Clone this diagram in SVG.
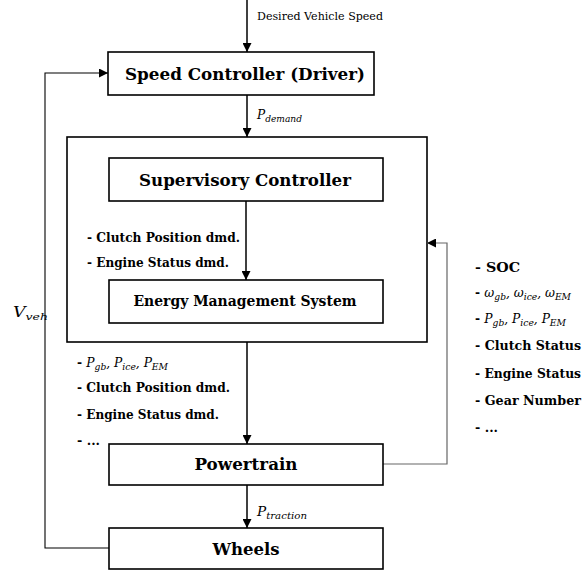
<svg xmlns="http://www.w3.org/2000/svg" width="582" height="570" viewBox="0 0 582 570">
<style>
.box{fill:#fff;stroke:#000;stroke-width:1.6}
.outer{fill:none;stroke:#000;stroke-width:1.6}
text{font-family:"DejaVu Serif","Liberation Serif",serif;fill:#000}
.b{font-weight:bold}
.i{font-style:italic}
.ln{fill:none;stroke:#000;stroke-width:1.5}
.fb{fill:none;stroke:#000;stroke-width:1.1}
.gr{fill:none;stroke:#666;stroke-width:1.2}
</style>
<defs>
<marker id="ah2" viewBox="0 0 10 10" refX="10" refY="5" markerWidth="9" markerHeight="9" markerUnits="userSpaceOnUse" orient="auto">
<path d="M0,0 L10,5 L0,10 Z" fill="#000"/>
</marker>
</defs>
<g id="outer">
<rect class="outer" x="67" y="137" width="360" height="205"/>
</g>
<g id="connectors">
<line class="ln" x1="247" y1="0" x2="247" y2="52" marker-end="url(#ah2)"/>
<line class="ln" x1="247" y1="95" x2="247" y2="137" marker-end="url(#ah2)"/>
<line class="ln" x1="246" y1="201" x2="246" y2="280" marker-end="url(#ah2)"/>
<line class="ln" x1="247" y1="342" x2="247" y2="444" marker-end="url(#ah2)"/>
<line class="ln" x1="247" y1="485" x2="247" y2="528" marker-end="url(#ah2)"/>
<polyline class="gr" points="383,464 447,464 447,243 427,243" marker-end="url(#ah2)"/>
<polyline class="fb" points="109,548 45,548 45,73 108,73" marker-end="url(#ah2)"/>
<text x="257" y="20" font-size="10.5" textLength="126" lengthAdjust="spacingAndGlyphs">Desired Vehicle Speed</text>
<text class="i" x="257" y="119" font-size="12" textLength="45" lengthAdjust="spacingAndGlyphs">P<tspan font-size="9" dy="2.5">demand</tspan></text>
<text class="i" x="257" y="516" font-size="12" textLength="50" lengthAdjust="spacingAndGlyphs">P<tspan font-size="9" dy="2.5">traction</tspan></text>
<text class="i" x="13" y="317" font-size="14" textLength="35" lengthAdjust="spacingAndGlyphs">V<tspan font-size="10" dy="3">veh</tspan></text>
<g font-size="12">
<text class="b" x="87" y="242" textLength="153" lengthAdjust="spacingAndGlyphs">- Clutch Position dmd.</text>
<text class="b" x="87" y="267" textLength="142" lengthAdjust="spacingAndGlyphs">- Engine Status dmd.</text>
<text x="77" y="367" textLength="91" lengthAdjust="spacingAndGlyphs"><tspan font-weight="bold">- </tspan><tspan font-style="italic">P<tspan font-size="9" dy="2.5">gb</tspan><tspan dy="-2.5">, P</tspan><tspan font-size="9" dy="2.5">ice</tspan><tspan dy="-2.5">, P</tspan><tspan font-size="9" dy="2.5">EM</tspan></tspan></text>
<text class="b" x="77" y="392" textLength="153" lengthAdjust="spacingAndGlyphs">- Clutch Position dmd.</text>
<text class="b" x="77" y="419" textLength="142" lengthAdjust="spacingAndGlyphs">- Engine Status dmd.</text>
<text class="b" x="77" y="445" textLength="23" lengthAdjust="spacingAndGlyphs">- ...</text>
<text class="b" x="475" y="272" textLength="45" lengthAdjust="spacingAndGlyphs">- SOC</text>
<text x="475" y="297" textLength="96" lengthAdjust="spacingAndGlyphs"><tspan font-weight="bold">- </tspan><tspan font-style="italic">ω<tspan font-size="9" dy="2.5">gb</tspan><tspan dy="-2.5">, ω</tspan><tspan font-size="9" dy="2.5">ice</tspan><tspan dy="-2.5">, ω</tspan><tspan font-size="9" dy="2.5">EM</tspan></tspan></text>
<text x="475" y="323" textLength="91" lengthAdjust="spacingAndGlyphs"><tspan font-weight="bold">- </tspan><tspan font-style="italic">P<tspan font-size="9" dy="2.5">gb</tspan><tspan dy="-2.5">, P</tspan><tspan font-size="9" dy="2.5">ice</tspan><tspan dy="-2.5">, P</tspan><tspan font-size="9" dy="2.5">EM</tspan></tspan></text>
<text class="b" x="475" y="350" textLength="106" lengthAdjust="spacingAndGlyphs">- Clutch Status</text>
<text class="b" x="475" y="378" textLength="106" lengthAdjust="spacingAndGlyphs">- Engine Status</text>
<text class="b" x="475" y="405" textLength="106" lengthAdjust="spacingAndGlyphs">- Gear Number</text>
<text class="b" x="475" y="432" textLength="23" lengthAdjust="spacingAndGlyphs">- ...</text>
</g>
</g>
<g id="speed-controller">
<rect class="box" x="108" y="52" width="266" height="43"/>
<text class="b" x="245" y="80" font-size="17" text-anchor="middle" textLength="240" lengthAdjust="spacingAndGlyphs">Speed Controller (Driver)</text>
</g>
<g id="supervisory-controller">
<rect class="box" x="109" y="158" width="274" height="43"/>
<text class="b" x="245" y="186" font-size="17" text-anchor="middle" textLength="212" lengthAdjust="spacingAndGlyphs">Supervisory Controller</text>
</g>
<g id="ems">
<rect class="box" x="109" y="280" width="274" height="43"/>
<text class="b" x="245" y="306" font-size="14" text-anchor="middle" textLength="223" lengthAdjust="spacingAndGlyphs">Energy Management System</text>
</g>
<g id="powertrain">
<rect class="box" x="109" y="444" width="274" height="41"/>
<text class="b" x="246" y="470" font-size="17" text-anchor="middle" textLength="103" lengthAdjust="spacingAndGlyphs">Powertrain</text>
</g>
<g id="wheels">
<rect class="box" x="109" y="528" width="274" height="41"/>
<text class="b" x="246" y="555" font-size="17" text-anchor="middle" textLength="67" lengthAdjust="spacingAndGlyphs">Wheels</text>
</g>
</svg>
